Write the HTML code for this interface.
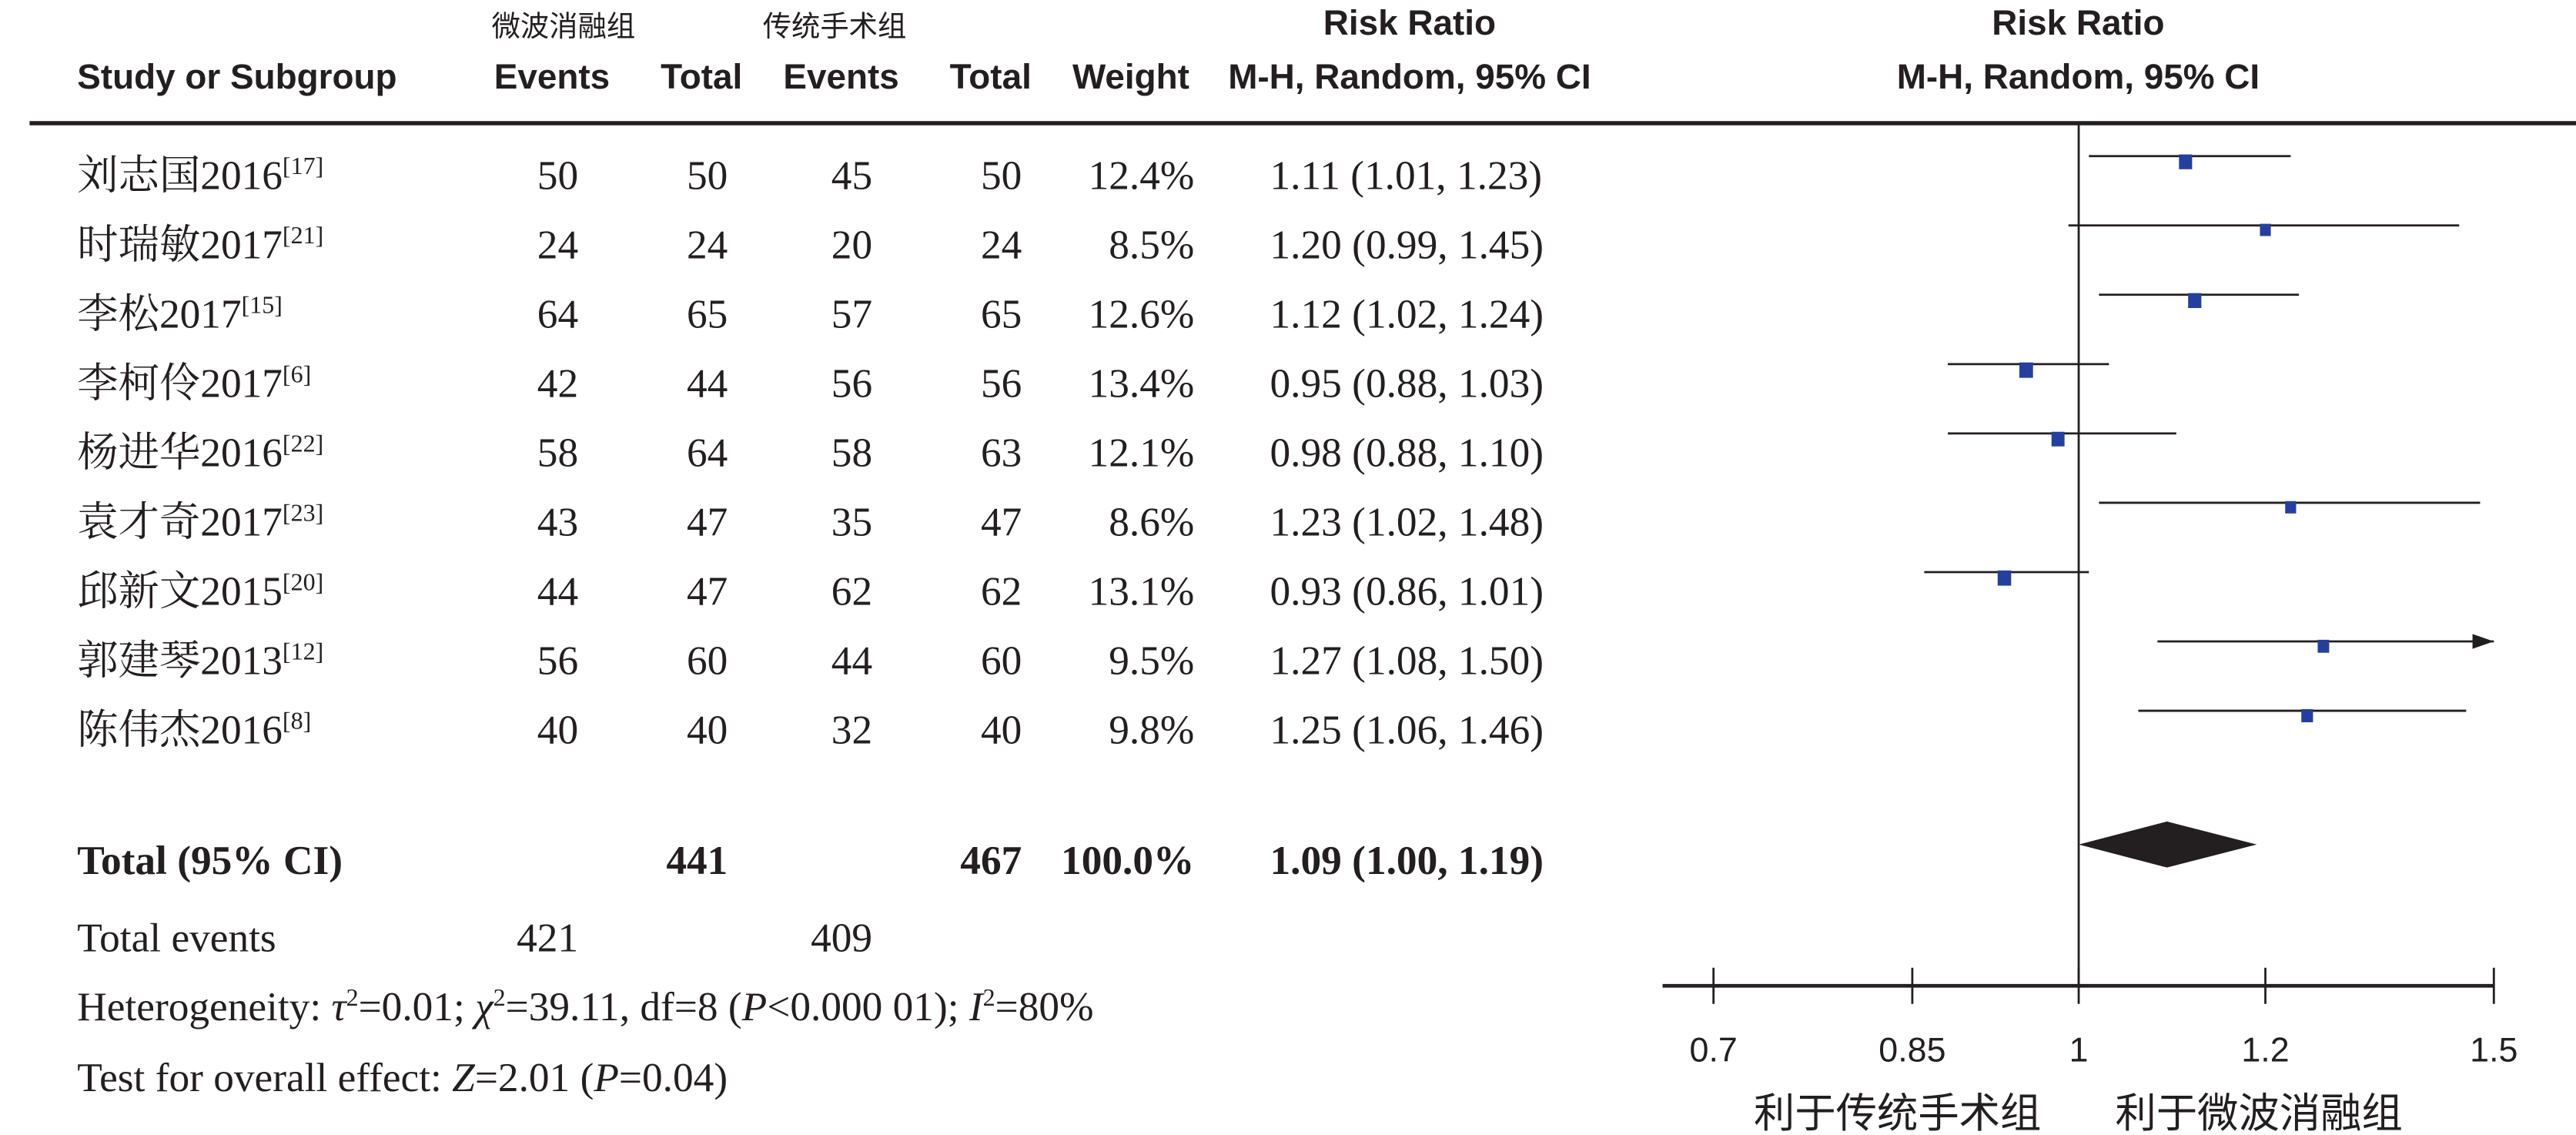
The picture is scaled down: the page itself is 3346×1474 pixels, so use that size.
<!DOCTYPE html>
<html><head><meta charset="utf-8"><style>
html,body{margin:0;padding:0;background:#fff;}
svg{display:block;}
.s{font-family:"Liberation Serif","Noto Serif CJK SC","Noto Sans CJK SC",serif;font-size:25px;fill:#231f20;}
.h{font-family:"Liberation Sans","Noto Sans CJK SC",sans-serif;font-size:21.5px;font-weight:bold;fill:#231f20;}
.a{font-family:"Liberation Sans","Noto Sans CJK SC",sans-serif;font-size:21px;fill:#231f20;}
.cj{font-family:"Liberation Sans","Noto Sans CJK SC",sans-serif;font-size:17.5px;fill:#231f20;}
.cb{font-family:"Liberation Sans","Noto Sans CJK SC",sans-serif;font-size:25px;fill:#231f20;}
</style></head><body>
<svg id="plot" width="3346" height="1474" viewBox="0 0 1568 690.8" preserveAspectRatio="none">
<g>
<text class="cj" x="343" y="22" text-anchor="middle">微波消融组</text>
<text class="cj" x="508" y="22" text-anchor="middle">传统手术组</text>
<text class="h" x="858" y="21" text-anchor="middle">Risk Ratio</text>
<text class="h" x="1265" y="21" text-anchor="middle">Risk Ratio</text>
<text class="h" x="47" y="54">Study or Subgroup</text>
<text class="h" x="336" y="54" text-anchor="middle">Events</text>
<text class="h" x="427" y="54" text-anchor="middle">Total</text>
<text class="h" x="512" y="54" text-anchor="middle">Events</text>
<text class="h" x="603" y="54" text-anchor="middle">Total</text>
<text class="h" x="724" y="54" text-anchor="end">Weight</text>
<text class="h" x="858" y="54" text-anchor="middle">M-H, Random, 95% CI</text>
<text class="h" x="1265" y="54" text-anchor="middle">M-H, Random, 95% CI</text>
</g>
<line x1="18" y1="75" x2="1568" y2="75" stroke="#231f20" stroke-width="2.6"/>
<g id="rows"></g>
<g id="marks"></g>
<g id="axis"></g>
<g>
<text class="s" x="47" y="532" font-weight="bold">Total (95% CI)</text>
<text class="s" x="443" y="532" text-anchor="end" font-weight="bold">441</text>
<text class="s" x="622" y="532" text-anchor="end" font-weight="bold">467</text>
<text class="s" x="727" y="532" text-anchor="end" font-weight="bold">100.0%</text>
<text class="s" x="773" y="532" font-weight="bold">1.09 (1.00, 1.19)</text>
<text class="s" x="47" y="579">Total events</text>
<text class="s" x="352" y="579" text-anchor="end">421</text>
<text class="s" x="531" y="579" text-anchor="end">409</text>
<text class="s" x="47" y="621">Heterogeneity: <tspan font-style="italic">τ</tspan><tspan font-size="15" dy="-9">2</tspan><tspan dy="9">=0.01; </tspan><tspan font-style="italic">χ</tspan><tspan font-size="15" dy="-9">2</tspan><tspan dy="9">=39.11, df=8 (</tspan><tspan font-style="italic">P</tspan>&lt;0.000 01); <tspan font-style="italic">I</tspan><tspan font-size="15" dy="-9">2</tspan><tspan dy="9">=80%</tspan></text>
<text class="s" x="47" y="664">Test for overall effect: <tspan font-style="italic">Z</tspan>=2.01 (<tspan font-style="italic">P</tspan>=0.04)</text>
<text class="cb" x="1155" y="686" text-anchor="middle">利于传统手术组</text>
<text class="cb" x="1375" y="686" text-anchor="middle">利于微波消融组</text>
</g>
</svg>
<script>
const studies=["刘志国2016","时瑞敏2017","李松2017","李柯伶2017","杨进华2016","袁才奇2017","邱新文2015","郭建琴2013","陈伟杰2016"];
const refs=["17","21","15","6","22","23","20","12","8"];
const events1=[50,24,64,42,58,43,44,56,40];
const total1=[50,24,65,44,64,47,47,60,40];
const events2=[45,20,57,56,58,35,62,44,32];
const total2=[50,24,65,56,63,47,62,60,40];
const weights=[12.4,8.5,12.6,13.4,12.1,8.6,13.1,9.5,9.8];
const rr=[1.11,1.20,1.12,0.95,0.98,1.23,0.93,1.27,1.25];
const lo=[1.01,0.99,1.02,0.88,0.88,1.02,0.86,1.08,1.06];
const hi=[1.23,1.45,1.24,1.03,1.10,1.48,1.01,1.50,1.46];
const pooled=[1.09,1.00,1.19];
const ticks=[0.7,0.85,1,1.2,1.5];
const tickLabels=["0.7","0.85","1","1.2","1.5"];
const NS="http://www.w3.org/2000/svg";
const xMin=0.7,xMax=1.5,pxMin=1043,pxMax=1518;
function xs(v){const c=Math.max(xMin,Math.min(xMax,v));return pxMin+(Math.log(c)-Math.log(xMin))/(Math.log(xMax)-Math.log(xMin))*(pxMax-pxMin);}
function ys(i){return 99+i*42.2;}
function mk(tag,attrs,parent){const e=document.createElementNS(NS,tag);for(const k in attrs)e.setAttribute(k,attrs[k]);parent.appendChild(e);return e;}
const rows=document.getElementById('rows'),marks=document.getElementById('marks'),axis=document.getElementById('axis');
const f=v=>v.toFixed(2);
studies.forEach((s,i)=>{
  const y=ys(i)+16;
  const t=mk('text',{class:'s',x:47,y:y},rows);
  
  
  t.textContent=s;
  const sup=mk('tspan',{'font-size':15,dy:-9},t);sup.textContent='['+refs[i]+']';
  const cols=[[events1[i],352],[total1[i],443],[events2[i],531],[total2[i],622],[weights[i].toFixed(1)+'%',727]];
  const names=['events1','total1','events2','total2','weight'];
  cols.forEach((c,j)=>{const e=mk('text',{class:'s',x:c[1],y:y,'text-anchor':'end'},rows);
    
    
    e.textContent=c[0];});
  const ci=mk('text',{class:'s',x:773,y:y},rows);
  
  
  ci.textContent=f(rr[i])+' ('+f(lo[i])+', '+f(hi[i])+')';
  const yc=ys(i)-4;
  const l=mk('line',{x1:xs(lo[i]),x2:xs(hi[i]),y1:yc,y2:yc,stroke:'#231f20','stroke-width':1.3},marks);
  
  
  if(hi[i]>=xMax){const a=mk('polygon',{points:`${pxMax},${yc} ${pxMax-13},${yc-4.5} ${pxMax-13},${yc+4.5}`,fill:'#231f20'},marks);
    
    }
  const sc=Math.sqrt(weights[i]/12.4);
  const w=8*sc,h=9*sc;
  const r=mk('rect',{x:xs(rr[i])-w/2,y:yc-1,width:w,height:h,fill:'#253f9c'},marks);
  
  
});
const dy=514;
const d=mk('polygon',{points:`${xs(pooled[1])},${dy} ${xs(pooled[0])},${dy-14} ${xs(pooled[2])},${dy} ${xs(pooled[0])},${dy+14}`,fill:'#231f20'},marks);


const nl=mk('line',{x1:xs(1),x2:xs(1),y1:75,y2:600,stroke:'#231f20','stroke-width':1.3},axis);


const al=mk('line',{x1:1012,x2:pxMax,y1:600,y2:600,stroke:'#231f20','stroke-width':2.2},axis);


ticks.forEach((t,i)=>{
  const tl=mk('line',{x1:xs(t),x2:xs(t),y1:589,y2:611,stroke:'#231f20','stroke-width':1.3},axis);
  
  
  const tx=mk('text',{class:'a',x:xs(t),y:646,'text-anchor':'middle'},axis);
  
  
  tx.textContent=tickLabels[i];
});
</script>
</body></html>
